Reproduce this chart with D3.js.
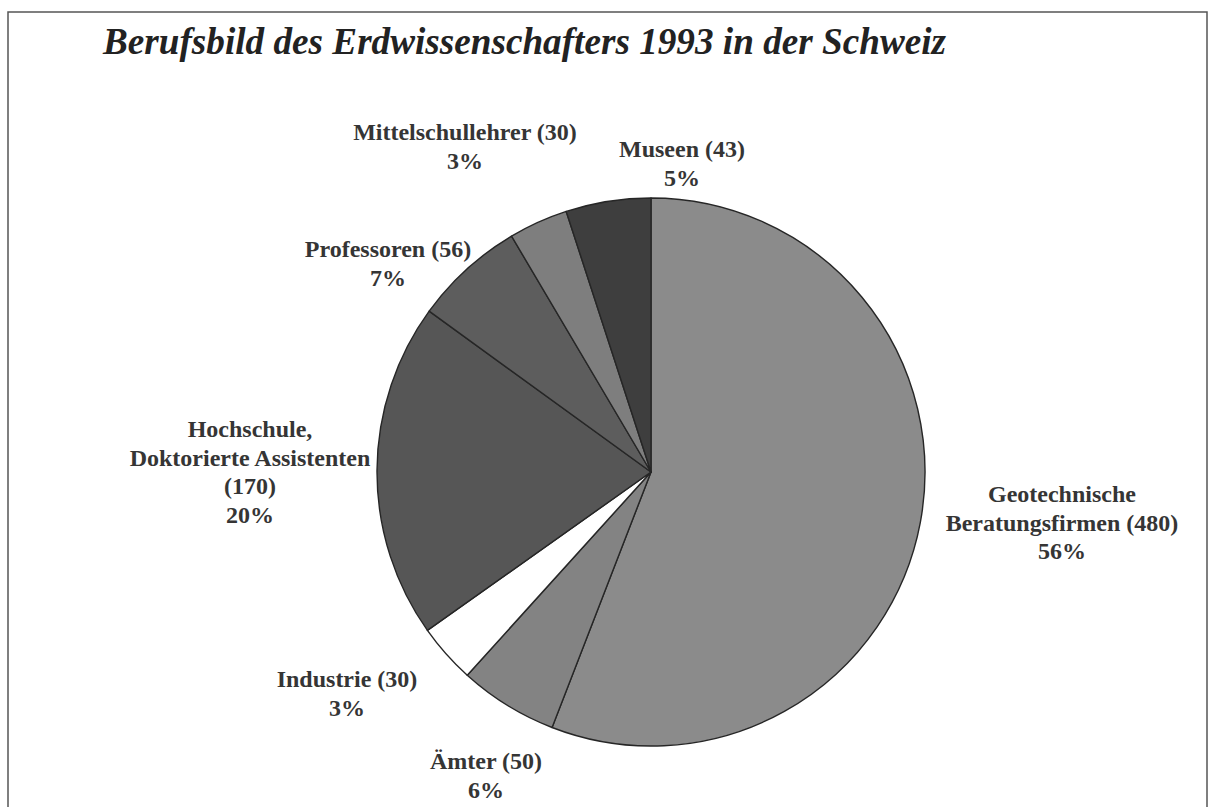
<!DOCTYPE html>
<html>
<head>
<meta charset="utf-8">
<script src="https://cdn.jsdelivr.net/npm/d3@7"></script>
<style>
  body { margin: 0; background: #fff; }
  svg { display: block; }
</style>
</head>
<body>
<div class="chart-container"></div>
<script>
// data
const titleText = 'Berufsbild des Erdwissenschafters 1993 in der Schweiz';
const categories = ['Geotechnische Beratungsfirmen', 'Ämter', 'Industrie', 'Hochschule, Doktorierte Assistenten', 'Professoren', 'Mittelschullehrer', 'Museen'];
const counts = [480, 50, 30, 170, 56, 30, 43];
const percents = [56, 6, 3, 20, 7, 3, 5];
const nameLines = [['Geotechnische', 'Beratungsfirmen'], ['Ämter'], ['Industrie'], ['Hochschule,', 'Doktorierte Assistenten'], ['Professoren'], ['Mittelschullehrer'], ['Museen']];
const countOnOwnLine = [false, false, false, true, false, false, false];

// styles / layout
const width = 1211, height = 807;
const cx = 651, cy = 472, radius = 274;
const sliceColors = ['#8b8b8b', '#838383', '#ffffff', '#565656', '#5d5d5d', '#7e7e7e', '#3e3e3e'];
const labelCenters = [[1062, 502], [486, 769], [347, 687], [250, 437], [388, 257], [465, 140], [682, 157]];
const lineHeight = 28.5;

const svg = d3.select('.chart-container')
    .append('svg')
    .attr('width', width)
    .attr('height', height);

// frame
svg.append('path')
    .attr('d', `M8,${height} L8,12 L1207,12 L1207,${height}`)
    .style('fill', 'none')
    .style('stroke', '#555')
    .style('stroke-width', 1.5);

svg.append('text')
    .attr('x', 103)
    .attr('y', 54)
    .attr('textLength', 843)
    .attr('lengthAdjust', 'spacingAndGlyphs')
    .style('font-family', '"Liberation Serif", "DejaVu Serif", serif')
    .style('font-style', 'italic')
    .style('font-weight', 'bold')
    .style('font-size', '38px')
    .style('fill', '#222')
    .text(titleText);

const data = categories.map((c, i) => ({ name: c, value: counts[i], pct: percents[i], i }));

const pie = d3.pie()
    .sort(null)
    .value(d => d.value);

const arc = d3.arc()
    .innerRadius(0)
    .outerRadius(radius);

const g = svg.append('g')
    .attr('transform', `translate(${cx},${cy})`);

g.selectAll('path')
    .data(pie(data))
    .enter().append('path')
    .attr('d', arc)
    .style('fill', d => sliceColors[d.data.i])
    .style('stroke', '#262626')
    .style('stroke-width', 1.4)
    .style('stroke-linejoin', 'round');

// labels
data.forEach((d, i) => {
    const lines = nameLines[i].slice();
    if (countOnOwnLine[i]) {
        lines.push(`(${d.value})`);
    } else {
        lines[lines.length - 1] += ` (${d.value})`;
    }
    lines.push(`${d.pct}%`);

    const t = svg.append('text')
        .attr('text-anchor', 'middle')
        .style('font-family', '"Liberation Serif", "DejaVu Serif", serif')
        .style('font-weight', 'bold')
        .style('font-size', '24px')
        .style('fill', '#353535');

    lines.forEach((line, k) => {
        t.append('tspan')
            .attr('x', labelCenters[i][0])
            .attr('y', labelCenters[i][1] + k * lineHeight)
            .text(line);
    });
});
</script>
</body>
</html>
